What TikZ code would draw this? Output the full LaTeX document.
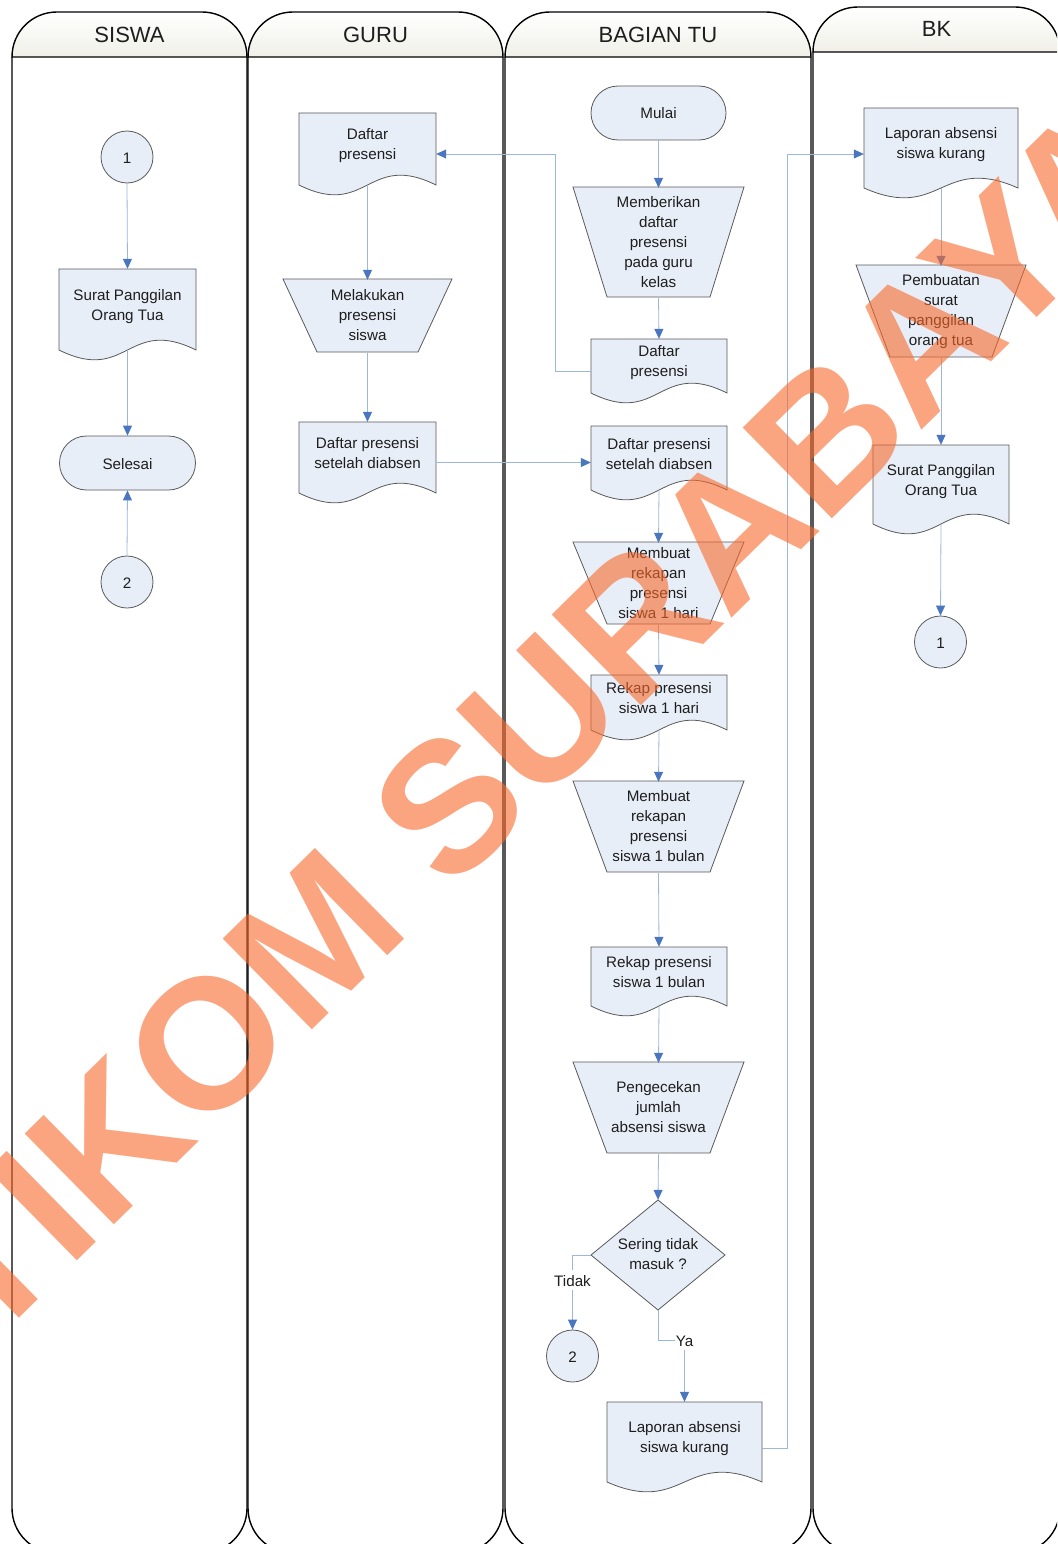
\documentclass[tikz,border=0pt]{standalone}
\usepackage{fontspec}
\setmainfont{Liberation Sans}
\usetikzlibrary{arrows.meta,calc}
\definecolor{shapefill}{HTML}{E8EEF7}
\definecolor{shapeline}{HTML}{5A5A5A}
\definecolor{linkblue}{HTML}{9DB6DB}
\definecolor{tipblue}{HTML}{4A76C0}
\definecolor{hdrfill}{HTML}{F0F0E8}
\definecolor{wmorange}{HTML}{F8692C}
\definecolor{txtcol}{HTML}{1E1E1E}
\newcommand\tstrut{\rule[-3pt]{0pt}{18pt}}

\tikzset{
  shp/.style={fill=shapefill, draw=shapeline, line width=0.8pt},
  txt/.style={align=center, text=txtcol, font=\fontsize{15.2}{20}\selectfont, inner sep=0pt,
              execute at begin node=\tstrut, execute at end node=\tstrut},
  term/.style={shp, txt, rounded corners=27pt, minimum width=136pt, minimum height=54pt},
  conn/.style={shp, txt, circle, minimum size=52pt},
  boxn/.style={draw=none, fill=none, rectangle, inner sep=0pt},
  link/.style={draw=linkblue, line width=0.8pt, -{Triangle[length=10pt,width=9pt,color=tipblue]}},
  lbl/.style={txt, fill=white, inner sep=1pt},
  laneline/.style={draw=black, line width=1.4pt},
  hdr/.style={text=txtcol, font=\fontsize{22}{26}\selectfont, inner sep=0pt},
}

% document shape: name, x0, x1, ytop, ybottom(sides), text
\newcommand\docnode[6]{%
  \path[shp] (#2,#4) -- (#3,#4) -- (#3,#5) .. controls ({(#2+#3)/2},#5-34) and ({(#2+#3)/2},#5+34) .. (#2,#5) -- cycle;
  \node[boxn, minimum width=#3-#2, minimum height=#5-#4] (#1) at ({(#2+#3)/2},{(#4+#5)/2}) {};
  \node[txt] (#1-t) at ({(#2+#3)/2},{(#4+#5)/2-3}) {#6};
}
% manual operation (trapezoid): name, xl, xr, ytop, ybottom, text
\newcommand\trapnode[6]{%
  \path[shp] (#2,#4) -- (#3,#4) -- (#3-34,#5) -- (#2+34,#5) -- cycle;
  \node[boxn, txt, minimum width=#3-#2, minimum height=#5-#4] (#1) at ({(#2+#3)/2},{(#4+#5)/2+1}) {#6};
}
% swimlane: L, R, top, title-y, name, title
\newcommand\swimlane[6]{%
  \draw[laneline, fill=white] (#1,#3+45) -- (#1,1508) .. controls (#1,1533) and (#1+20,1553) .. (#1+45,1553)
     -- (#2-45,1553) .. controls (#2-20,1553) and (#2,1533) .. (#2,1508) -- (#2,#3+45);
  \draw[laneline, top color=white, bottom color=hdrfill] (#1,#3+45) .. controls (#1,#3+20) and (#1+20,#3) .. (#1+45,#3)
     -- (#2-45,#3) .. controls (#2-20,#3) and (#2,#3+20) .. (#2,#3+45) -- cycle;
  \node[hdr] (#5) at ({(#1+#2)/2},#4) {#6};
}

\begin{document}
\begin{tikzpicture}[x=1pt,y=-1pt]
\useasboundingbox (0,0) rectangle (1057,1544);
\clip (0,0) rectangle (1057,1544);
\fill[white] (0,0) rectangle (1057,1544);

% lanes
\swimlane{12}{247}{12}{34.5}{hsiswa}{SISWA}
\swimlane{248}{503}{12}{34.5}{hguru}{GURU}
\swimlane{505}{811}{12}{34.5}{htu}{BAGIAN TU}
\swimlane{813}{1060}{7}{29}{hbk}{BK}

% SISWA
\node[conn] (s1) at (127,157) {1};
\docnode{ssurat}{59}{196}{269}{350}{Surat Panggilan\\Orang Tua}
\node[term] (selesai) at (127.5,463) {Selesai};
\node[conn] (s2) at (127,582) {2};

% GURU
\docnode{gdp}{299}{436}{113}{185}{Daftar\\presensi}
\trapnode{gmel}{283}{452}{279}{352}{Melakukan\\presensi\\siswa}
\docnode{gsd}{299}{436}{422}{493}{Daftar presensi\\setelah diabsen}

% BAGIAN TU
\node[term, minimum width=135pt] (mulai) at (658.5,113) {Mulai};
\trapnode{tmem}{573}{744}{187}{297}{Memberikan\\daftar\\presensi\\pada guru\\kelas}
\docnode{tdp}{591}{727}{339}{393}{Daftar\\presensi}
\docnode{tsd}{591}{727}{426}{490}{Daftar presensi\\setelah diabsen}
\trapnode{trek1}{573}{744}{542}{624}{Membuat\\rekapan\\presensi\\siswa 1 hari}
\docnode{trh}{591}{727}{675}{730}{Rekap presensi\\siswa 1 hari}
\trapnode{trek2}{573}{744}{781}{872}{Membuat\\rekapan\\presensi\\siswa 1 bulan}
\docnode{trb}{591}{727}{947}{1006}{Rekap presensi\\siswa 1 bulan}
\trapnode{tcek}{573}{744}{1062}{1153}{Pengecekan\\jumlah\\absensi siswa}
\path[shp] (591,1255) -- (658,1200) -- (725,1255) -- (658,1310) -- cycle;
\node[boxn, txt, minimum width=134pt, minimum height=110pt] (dia) at (658,1255) {Sering tidak\\masuk ?};
\node[conn] (t2) at (572.5,1356) {2};
\docnode{tlap}{607}{762}{1402}{1482}{Laporan absensi\\siswa kurang}

% BK
\docnode{blap}{864}{1018}{108}{188}{Laporan absensi\\siswa kurang}
\trapnode{bpem}{856}{1026}{265}{357}{Pembuatan\\surat\\panggilan\\orang tua}
\docnode{bsurat}{873}{1009}{445}{524}{Surat Panggilan\\Orang Tua}
\node[conn] (b1) at (940.5,642) {1};

% connectors
\draw[link] (s1.south) -- (ssurat.north);
\draw[link] (ssurat.south) -- (selesai.north);
\draw[link] (s2.north) -- (selesai.south);

\draw[link] (gdp.south) -- (gmel.north);
\draw[link] (gmel.south) -- (gsd.north);
\draw[link] ([yshift=-5pt]gsd.east) -- ([yshift=-5pt]gsd.east -| tsd.west);

\draw[link] (mulai.south) -- (tmem.north);
\draw[link] (tmem.south) -- (tdp.north);
\draw[link] ([yshift=-5pt]tdp.west) -- ++(-35,0) |- ([yshift=-5pt]gdp.east);
\draw[link] (tsd.south) -- (trek1.north);
\draw[link] (trek1.south) -- (trh.north);
\draw[link] (trh.south) -- (trek2.north);
\draw[link] (trek2.south) -- (trb.north);
\draw[link] (trb.south) -- (tcek.north);
\draw[link] (tcek.south) -- (dia.north);
\draw[link] (dia.west) -| node[lbl, pos=0.67] (tidak) {Tidak} (t2.north);
\draw[link] (dia.south) -- ++(0,30) -| node[lbl, pos=0.5] (ya) {Ya} (tlap.north);
\draw[link] ([yshift=-6pt]tlap.east) -- ++(25,0) |- ([yshift=-6pt]blap.west);

\draw[link] (blap.south) -- (bpem.north);
\draw[link] (bpem.south) -- (bsurat.north);
\draw[link] (bsurat.south) -- (b1.north);

% watermark
\node[rotate=44.5, text=wmorange, text opacity=0.6, inner sep=0pt,
      font=\fontsize{185}{185}\selectfont\bfseries] (wm) at (492,764) {STIKOM SURABAYA};
\end{tikzpicture}
\end{document}
